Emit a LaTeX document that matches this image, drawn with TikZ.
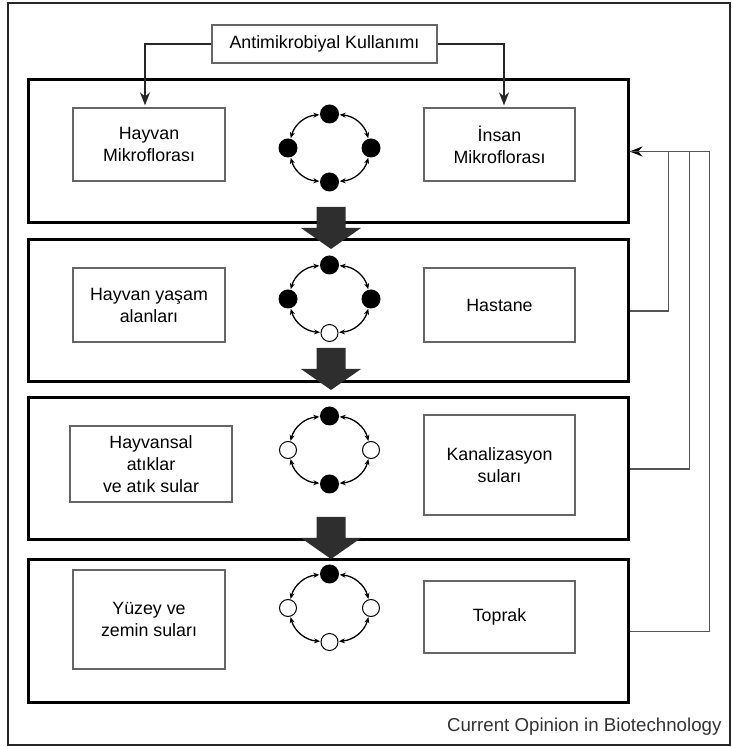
\documentclass[tikz,border=0pt]{standalone}
\usepackage{fontspec}
\setmainfont{Liberation Sans}
\usetikzlibrary{arrows.meta}
\definecolor{boxgray}{HTML}{666666}
\definecolor{arrowgray}{HTML}{2E2E2E}
\definecolor{linegray}{HTML}{555555}
\begin{document}
\begin{tikzpicture}[x=1pt, y=1pt,
	panel/.style={draw=black, line width=3pt, minimum width=600, inner sep=0pt},
	box/.style={draw=boxgray, line width=1.3pt, minimum width=152, align=center, inner sep=2pt, font=\fontsize{17.8}{22}\selectfont},
	dotfull/.style={circle, fill=black, minimum size=19, inner sep=0pt},
	dotempty/.style={circle, draw=black, fill=white, line width=1pt, minimum size=17, inner sep=0pt},
	cyc/.style={{Stealth[length=6pt,width=5pt]}-{Stealth[length=6pt,width=5pt]}, line width=1.3pt, bend left=35, shorten <=0.5pt, shorten >=0.5pt},
	feed/.style={draw=linegray, line width=1.4pt}]
	%\draw[help lines] (0,0) grid[step=50] (733,747);
	\useasboundingbox (0,0) rectangle (733,747);
	\draw[line width=1.5pt, draw=black!85] (8,2) rectangle (730,744);
	% four stages
	\node[panel, minimum height=143] (p1) at (328,595.5) {};
	\node[panel, minimum height=142] (p2) at (328,436) {};
	\node[panel, minimum height=142] (p3) at (328,278) {};
	\node[panel, minimum height=143] (p4) at (328,115.5) {};
	\node[box, minimum width=225, minimum height=38] (anti) at (324.5,703) {Antimikrobiyal Kullanımı};
	\node[box, minimum height=73] (hm) at (149,602.5) {Hayvan\\Mikroflorası};
	\node[box, minimum width=151, minimum height=73] (im) at (499.5,602.5) {İnsan\\Mikroflorası};
	\node[box, minimum height=74] (ha) at (149,442) {Hayvan yaşam\\alanları};
	\node[box, minimum width=151, minimum height=74] (hs) at (499.5,442) {Hastane};
	\node[box, minimum width=162, minimum height=76] (at) at (151,283) {Hayvansal\\atıklar\\ve atık sular};
	\node[box, minimum width=151, minimum height=100] (ks) at (499.5,282) {Kanalizasyon\\suları};
	\node[box, minimum height=99] (ys) at (149,127.5) {Yüzey ve\\zemin suları};
	\node[box, minimum width=151, minimum height=72] (tp) at (499.5,130) {Toprak};
	\foreach \i/\cy/\st/\sr/\sb/\sl in {1/599/dotfull/dotfull/dotfull/dotfull,
		2/448/dotfull/dotfull/dotempty/dotfull,
		3/297/dotfull/dotempty/dotfull/dotempty,
		4/139/dotfull/dotempty/dotempty/dotempty}{
		  \node[\st] (t\i) at (329.5,\cy+34) {};
		  \node[\sr] (r\i) at (371,\cy) {};
		  \node[\sb] (b\i) at (329.5,\cy-34) {};
		  \node[\sl] (l\i) at (288,\cy) {};
		  \draw[cyc] (t\i) to (r\i);
		  \draw[cyc] (r\i) to (b\i);
		  \draw[cyc] (b\i) to (l\i);
		  \draw[cyc] (l\i) to (t\i);
	}
	\foreach \top in {540,399,230}{
		  \fill[arrowgray] (316.5,\top) -- (345.5,\top) -- (345.5,\top-21) -- (361,\top-21)
		    -- (331,\top-42) -- (301,\top-21) -- (316.5,\top-21) -- cycle;
	}
	\draw[feed, draw=black!85, -{Stealth[length=13pt,width=10pt]}, shorten >=2pt] (anti.west) -| ([xshift=-4pt]hm.north);
	\draw[feed, draw=black!85, -{Stealth[length=13pt,width=10pt]}, shorten >=2pt] (anti.east) -| ([xshift=4.5pt]im.north);
	\draw[feed, -{Stealth[black,length=13pt,width=10pt]}] (p4.east) -- ++(80,0) |- (p1.east);
	\draw[feed] (p3.east) -- ++(60,0) |- (p1.east);
	\draw[feed] (p2.east) -- ++(39,0) |- (p1.east);
	\node[anchor=base east, text=black!80, font=\fontsize{18.7}{22}\selectfont] (src) at (725,15) {Current Opinion in Biotechnology};
\end{tikzpicture}
\end{document}
